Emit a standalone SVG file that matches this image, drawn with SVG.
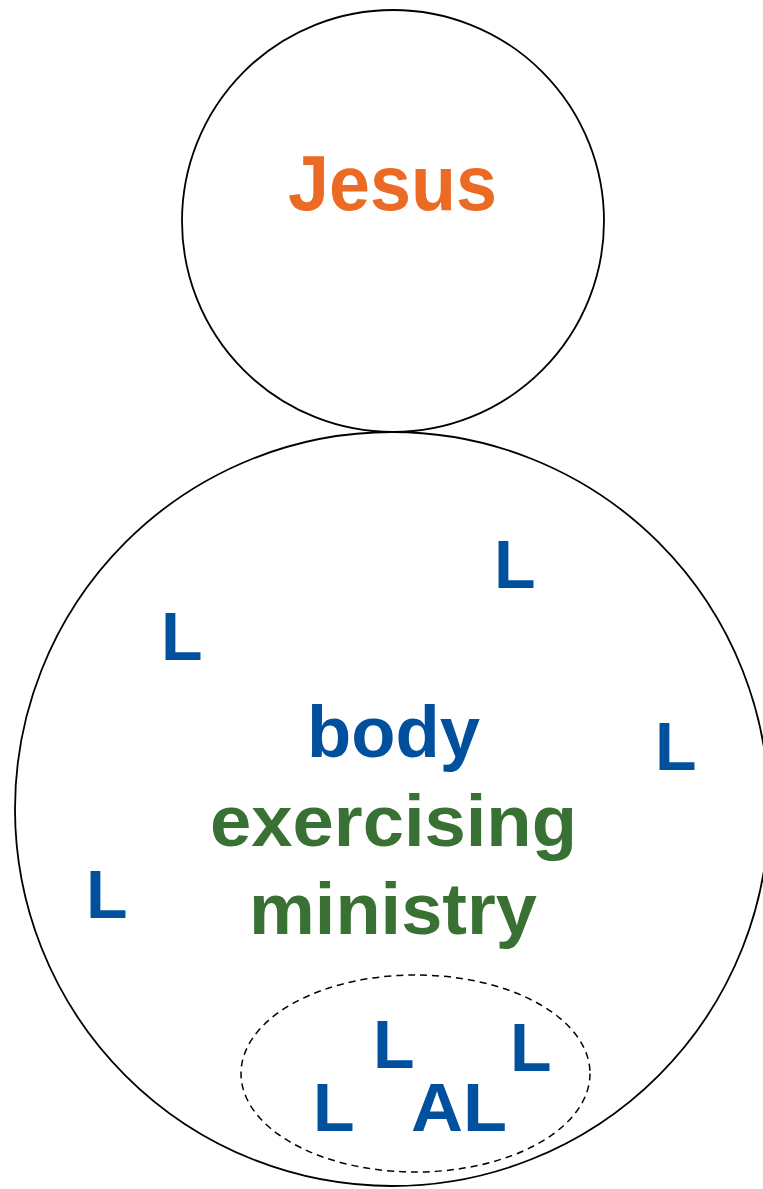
<svg xmlns="http://www.w3.org/2000/svg" width="763" height="1189" viewBox="0 0 763 1189">
<style>
.c{fill:none;stroke:#000;stroke-width:1.8}
.d{fill:none;stroke:#000;stroke-width:1.5;stroke-dasharray:7 5}
text{font-family:"Liberation Sans","DejaVu Sans",sans-serif;font-weight:bold}
.b{fill:#00509E}
.g{fill:#387133}
.o{fill:#EB6B24}
.l{font-size:68px}
</style>
<rect width="763" height="1189" fill="#fff"/>
<g id="jesus">
<circle class="c" cx="393" cy="221" r="211"/>
<text class="o" x="392.5" y="210" font-size="77" text-anchor="middle" textLength="209" lengthAdjust="spacingAndGlyphs">Jesus</text>
</g>
<g id="body">
<circle class="c" cx="392" cy="809" r="377"/>
<text class="b" x="393.5" y="757" font-size="73" text-anchor="middle" textLength="173" lengthAdjust="spacingAndGlyphs">body</text>
<text class="g" x="393.5" y="846" font-size="73" text-anchor="middle" textLength="367" lengthAdjust="spacingAndGlyphs">exercising</text>
<text class="g" x="393" y="934" font-size="73" text-anchor="middle" textLength="288" lengthAdjust="spacingAndGlyphs">ministry</text>
<text class="b l" x="494" y="588">L</text>
<text class="b l" x="161" y="660">L</text>
<text class="b l" x="655" y="770">L</text>
<text class="b l" x="86" y="918">L</text>
</g>
<g id="leaders">
<ellipse class="d" cx="415.5" cy="1073.5" rx="174.5" ry="98.5"/>
<text class="b l" x="373" y="1068">L</text>
<text class="b l" x="510" y="1071">L</text>
<text class="b l" x="313" y="1131">L</text>
<text class="b l" x="411" y="1131" textLength="96" lengthAdjust="spacingAndGlyphs">AL</text>
</g>
<g id="connectors"/>
</svg>
